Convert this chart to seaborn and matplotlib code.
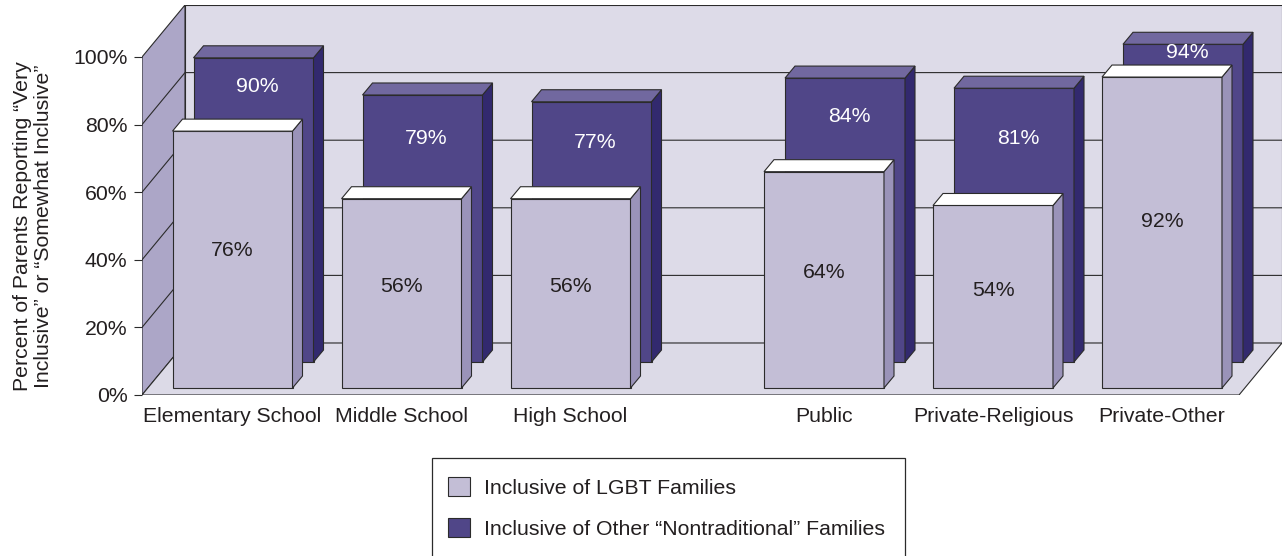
import matplotlib
matplotlib.use("Agg")
import matplotlib.pyplot as plt
from matplotlib.patches import Polygon, Rectangle, Patch
from matplotlib.lines import Line2D
import pandas as pd
import seaborn as sns

# ---- data -------------------------------------------------------------
categories = ["Elementary School", "Middle School", "High School",
              "Public", "Private-Religious", "Private-Other"]
positions = [0, 1, 2, 3.5, 4.5, 5.5]
lgbt = [76, 56, 56, 64, 54, 92]
other = [90, 79, 77, 84, 81, 94]
series_names = ["Inclusive of LGBT Families",
                "Inclusive of Other \u201cNontraditional\u201d Families"]
y_ticks = [0, 20, 40, 60, 80, 100]
y_tick_labels = ["0%", "20%", "40%", "60%", "80%", "100%"]
y_title = ("Percent of Parents Reporting \u201cVery\n"
           "Inclusive\u201d or \u201cSomewhat Inclusive\u201d")

# ---- style --------------------------------------------------------------
sns.set_style("white")
plt.rcParams["font.family"] = ["Liberation Sans", "DejaVu Sans"]
FS = 15.3
TXT = "#231f20"
EDGE = "#2b2b2b"
LIGHT, LIGHT_SIDE, LIGHT_TOP = "#c3bed6", "#9a93b9", "#ffffff"
DARK, DARK_SIDE, DARK_TOP = "#504688", "#32296e", "#71689f"
BACK_WALL, SIDE_WALL, FLOOR = "#dddbe8", "#aca6c7", "#dcdae7"

W, H, DPI = 1287, 556, 100
fig = plt.figure(figsize=(W / DPI, H / DPI), dpi=DPI)

# axes box (pixels, measured from the top-left corner of the figure)
L_PX, R_PX, B_PX, T_PX = 142, 1282, 395, 5
ax = fig.add_axes([L_PX / W, (H - B_PX) / H, (R_PX - L_PX) / W, (B_PX - T_PX) / H])

PX_PER_X = 169.0     # pixels per category step
PX_PER_Y = 3.38      # pixels per percentage point
X_MIN = -0.5
XLIM = (X_MIN, X_MIN + (R_PX - L_PX) / PX_PER_X)
YLIM = (0, (B_PX - T_PX) / PX_PER_Y)


def depth(px_dx, px_dy):
    """Oblique depth vector given in pixels, returned in data units."""
    return px_dx / PX_PER_X, px_dy / PX_PER_Y


wdx, wdy = depth(43, 52)          # depth of the whole box
ldx, ldy = depth(6, 7)            # front row (LGBT) placement
ddx, ddy = depth(27, 33)          # back row (other) placement
bdx, bdy = depth(10, 12)          # thickness of every bar
x0 = X_MIN
x1 = X_MIN + 1097 / PX_PER_X      # right edge of the front plane

# ---- bars ---------------------------------------------------------------
df = pd.DataFrame({"pos": positions, "lgbt": lgbt, "other": other})
bar_kw = dict(native_scale=True, width=120 / PX_PER_X, saturation=1,
              errorbar=None, edgecolor=EDGE, linewidth=0.8, ax=ax)
sns.barplot(data=df, x="pos", y="other", color=DARK, **bar_kw)
n_dark = len(ax.patches)
sns.barplot(data=df, x="pos", y="lgbt", color=LIGHT, **bar_kw)
dark_bars = list(ax.patches[:n_dark])
light_bars = list(ax.patches[n_dark:])
ax.set_xlim(*XLIM)
ax.set_ylim(*YLIM)

# ---- walls and floor -----------------------------------------------------
wall_kw = dict(edgecolor=EDGE, linewidth=0.8, joinstyle="miter")
ax.add_patch(Polygon([(x0 + wdx, wdy), (x1 + wdx, wdy), (x1 + wdx, 100 + wdy),
                      (x0 + wdx, 100 + wdy)], facecolor=BACK_WALL, zorder=0.1, **wall_kw))
ax.add_patch(Polygon([(x0, 0), (x0, 100), (x0 + wdx, 100 + wdy), (x0 + wdx, wdy)],
                     facecolor=SIDE_WALL, zorder=0.2, **wall_kw))
ax.add_patch(Polygon([(x0, 0), (x1, 0), (x1 + wdx, wdy), (x0 + wdx, wdy)],
                     facecolor=FLOOR, zorder=0.2, **wall_kw))
for v in y_ticks[1:-1]:
    ax.add_line(Line2D([x0, x0 + wdx, x1 + wdx], [v, v + wdy, v + wdy],
                       color=EDGE, linewidth=0.8, zorder=0.5))


def extrude(bar, off_x, off_y, side_c, top_c, z):
    bar.set_x(bar.get_x() + off_x)
    bar.set_y(bar.get_y() + off_y)
    bar.set_zorder(z)
    x, y = bar.get_x(), bar.get_y()
    w, h = bar.get_width(), bar.get_height()
    top = [(x, y + h), (x + w, y + h), (x + w + bdx, y + h + bdy), (x + bdx, y + h + bdy)]
    side = [(x + w, y), (x + w + bdx, y + bdy), (x + w + bdx, y + h + bdy), (x + w, y + h)]
    ax.add_patch(Polygon(side, facecolor=side_c, edgecolor=EDGE, linewidth=0.8, zorder=z))
    ax.add_patch(Polygon(top, facecolor=top_c, edgecolor=EDGE, linewidth=0.8, zorder=z))


for b in dark_bars:
    extrude(b, ddx, ddy, DARK_SIDE, DARK_TOP, 2)
for b in light_bars:
    extrude(b, ldx, ldy, LIGHT_SIDE, LIGHT_TOP, 3)

# ---- value labels ---------------------------------------------------------
for p, lv, ov in zip(positions, lgbt, other):
    ax.text(p + ldx, ldy + lv * 0.535, f"{lv}%", ha="center", va="center",
            fontsize=FS, color=TXT, zorder=5)
    visible_mid = ((ov + ddy) + (lv + ldy + bdy)) / 2
    ax.text(p + ddx + bdx * 0.4, visible_mid + 0.6, f"{ov}%", ha="center",
            va="center", fontsize=FS, color="white", zorder=4)

# ---- axes decoration --------------------------------------------------------
for s in ax.spines.values():
    s.set_visible(False)
ax.patch.set_visible(False)
ax.set_xticks([p + ldx for p in positions], categories)
ax.set_yticks(y_ticks, y_tick_labels)
ax.tick_params(axis="x", bottom=False, length=0, pad=9, labelsize=FS, labelcolor=TXT)
ax.tick_params(axis="y", left=True, length=5.5, width=0.8, color=EDGE, pad=5,
               labelsize=FS, labelcolor=TXT)
ax.set_xlabel("")
ax.set_ylabel("")

fig.text(33 / W, 1 - 226 / H, y_title, rotation=90, ha="center", va="center",
         multialignment="center", fontsize=FS, color=TXT, linespacing=1.15)

# ---- legend -----------------------------------------------------------------
handles = [Patch(facecolor=LIGHT, edgecolor=EDGE, linewidth=0.8),
           Patch(facecolor=DARK, edgecolor=EDGE, linewidth=0.8)]
fig.legend(handles, series_names, loc="upper left",
           bbox_to_anchor=(448 / W, 1 - 477 / H), frameon=False, fontsize=FS,
           labelcolor=TXT, handlelength=1.03, handleheight=1.0,
           handletextpad=0.65, labelspacing=0.95, borderpad=0, borderaxespad=0)
fig.add_artist(Rectangle((432 / W, -0.05), (905 - 432) / W, 0.05 + (H - 458) / H,
                         transform=fig.transFigure, facecolor="none",
                         edgecolor=EDGE, linewidth=0.9))

fig.savefig("out.png", dpi=DPI)
